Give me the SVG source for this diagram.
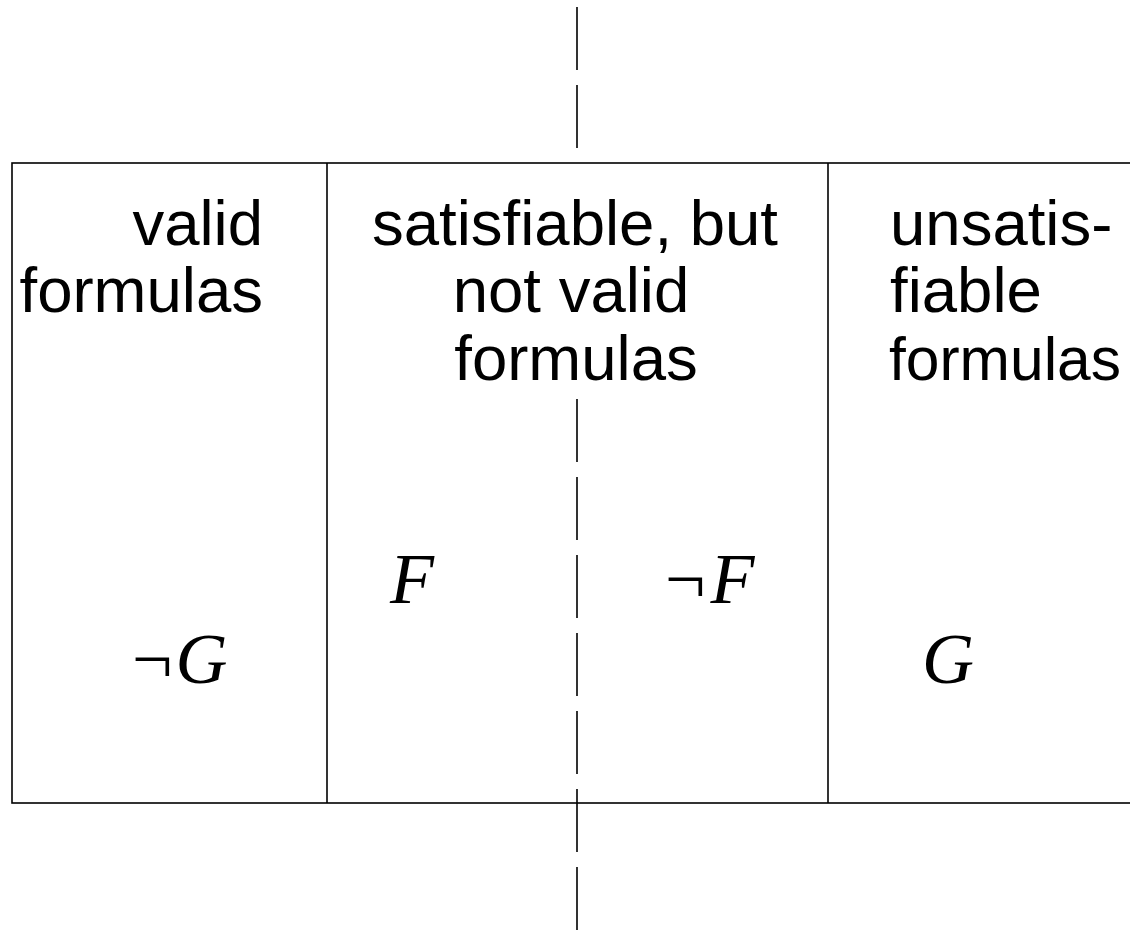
<svg xmlns="http://www.w3.org/2000/svg" width="1130" height="932" viewBox="0 0 1130 932">
<style>
.ln{stroke:#000;stroke-width:1.6;fill:none}
.box{stroke:#000;stroke-width:1.6;fill:#fff}
.dash{stroke:#000;stroke-width:1.6;stroke-dasharray:63 15;fill:none}
.t{font-family:"Liberation Sans",Arial,sans-serif;font-size:63.5px;fill:#000}
.m{font-family:"Liberation Serif","Times New Roman",serif;font-style:italic;font-size:72px;fill:#000}
.n{font-family:"Liberation Serif","Times New Roman",serif;font-size:72px;fill:#000}
</style>
<rect width="1130" height="932" fill="#fff"/>
<g id="connectors">
<line class="dash" x1="577" y1="7" x2="577" y2="163"/>
</g>
<g id="box">
<rect class="box" x="12" y="163" width="1130" height="640"/>
<line class="ln" x1="327" y1="163" x2="327" y2="803"/>
<line class="ln" x1="828" y1="163" x2="828" y2="803"/>
</g>
<g id="connectors2">
<line class="dash" x1="577" y1="399" x2="577" y2="932"/>
</g>
<g id="valid">
<text class="t" x="263" y="245" text-anchor="end">valid</text>
<text class="t" x="263" y="312" text-anchor="end">formulas</text>
</g>
<g id="satisfiable">
<text class="t" x="575" y="245" text-anchor="middle">satisfiable, but</text>
<text class="t" x="571" y="312" text-anchor="middle">not valid</text>
<text class="t" x="576" y="380" text-anchor="middle">formulas</text>
</g>
<g id="unsatisfiable">
<text class="t" x="890" y="245">unsatis-</text>
<text class="t" x="890" y="312">fiable</text>
<text class="t" x="889" y="380" style="font-size:60.5px">formulas</text>
</g>
<g id="negG"><text x="132" y="683"><tspan class="n">¬</tspan><tspan class="m" dx="3">G</tspan></text></g>
<g id="F"><text class="m" x="390" y="603">F</text></g>
<g id="negF"><text x="665" y="603"><tspan class="n">¬</tspan><tspan class="m" dx="5">F</tspan></text></g>
<g id="G"><text class="m" x="922" y="683">G</text></g>
</svg>
